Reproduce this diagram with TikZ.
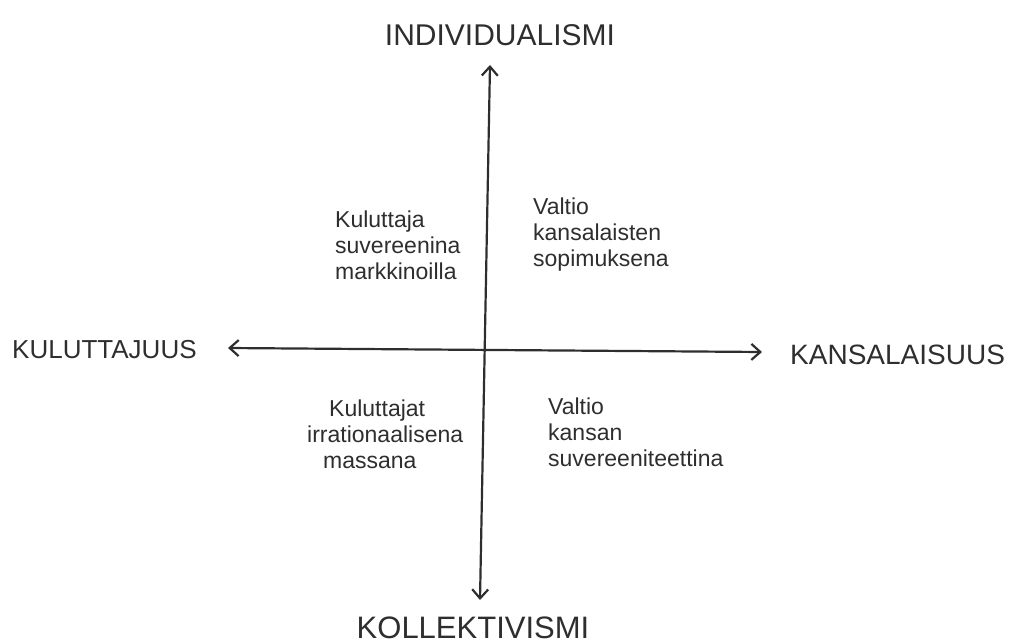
\documentclass[tikz,border=0pt]{standalone}
\usepackage{fontspec}
\setmainfont{Liberation Sans}
\usetikzlibrary{arrows.meta}
\begin{document}
\begin{tikzpicture}[x=1pt,y=-1pt,
  axis/.style={draw=black!82, line width=2.2pt, line cap=round, {Straight Barb[length=9pt,width=16pt,line width=2.2pt]}-{Straight Barb[length=9pt,width=16pt,line width=2.2pt]}},
  caplabel/.style={text=black!82, inner sep=0pt},
  quad/.style={text=black!82, font=\fontsize{23}{26}\selectfont, align=left, inner sep=0pt}]
\useasboundingbox (0,0) rectangle (1011,644);
\coordinate (top) at (490,65);
\coordinate (bot) at (480,600);
\coordinate (lft) at (228,348);
\coordinate (rgt) at (762,352);
\draw[axis] (top) -- (bot);
\draw[axis] (lft) -- (rgt);
\node[caplabel, font=\fontsize{30}{32}\selectfont] (ind) at (500,35) {INDIVIDUALISMI};
\node[caplabel, font=\fontsize{31}{33}\selectfont] (kol) at (473,628) {KOLLEKTIVISMI};
\node[caplabel, font=\fontsize{26}{28}\selectfont, anchor=west] (kul) at (12,350) {KULUTTAJUUS};
\node[caplabel, font=\fontsize{28}{30}\selectfont, anchor=west] (kan) at (790,355) {KANSALAISUUS};
\node[quad, anchor=north west] (q1) at (335,211) {Kuluttaja\\suvereenina\\markkinoilla};
\node[quad, anchor=north west] (q2) at (533,198) {Valtio\\kansalaisten\\sopimuksena};
\node[quad, anchor=north west] (q3) at (307,400) {\hspace*{22pt}Kuluttajat\\irrationaalisena\\\hspace*{16pt}massana};
\node[quad, anchor=north west] (q4) at (548,398) {Valtio\\kansan\\suvereeniteettina};
\end{tikzpicture}
\end{document}
